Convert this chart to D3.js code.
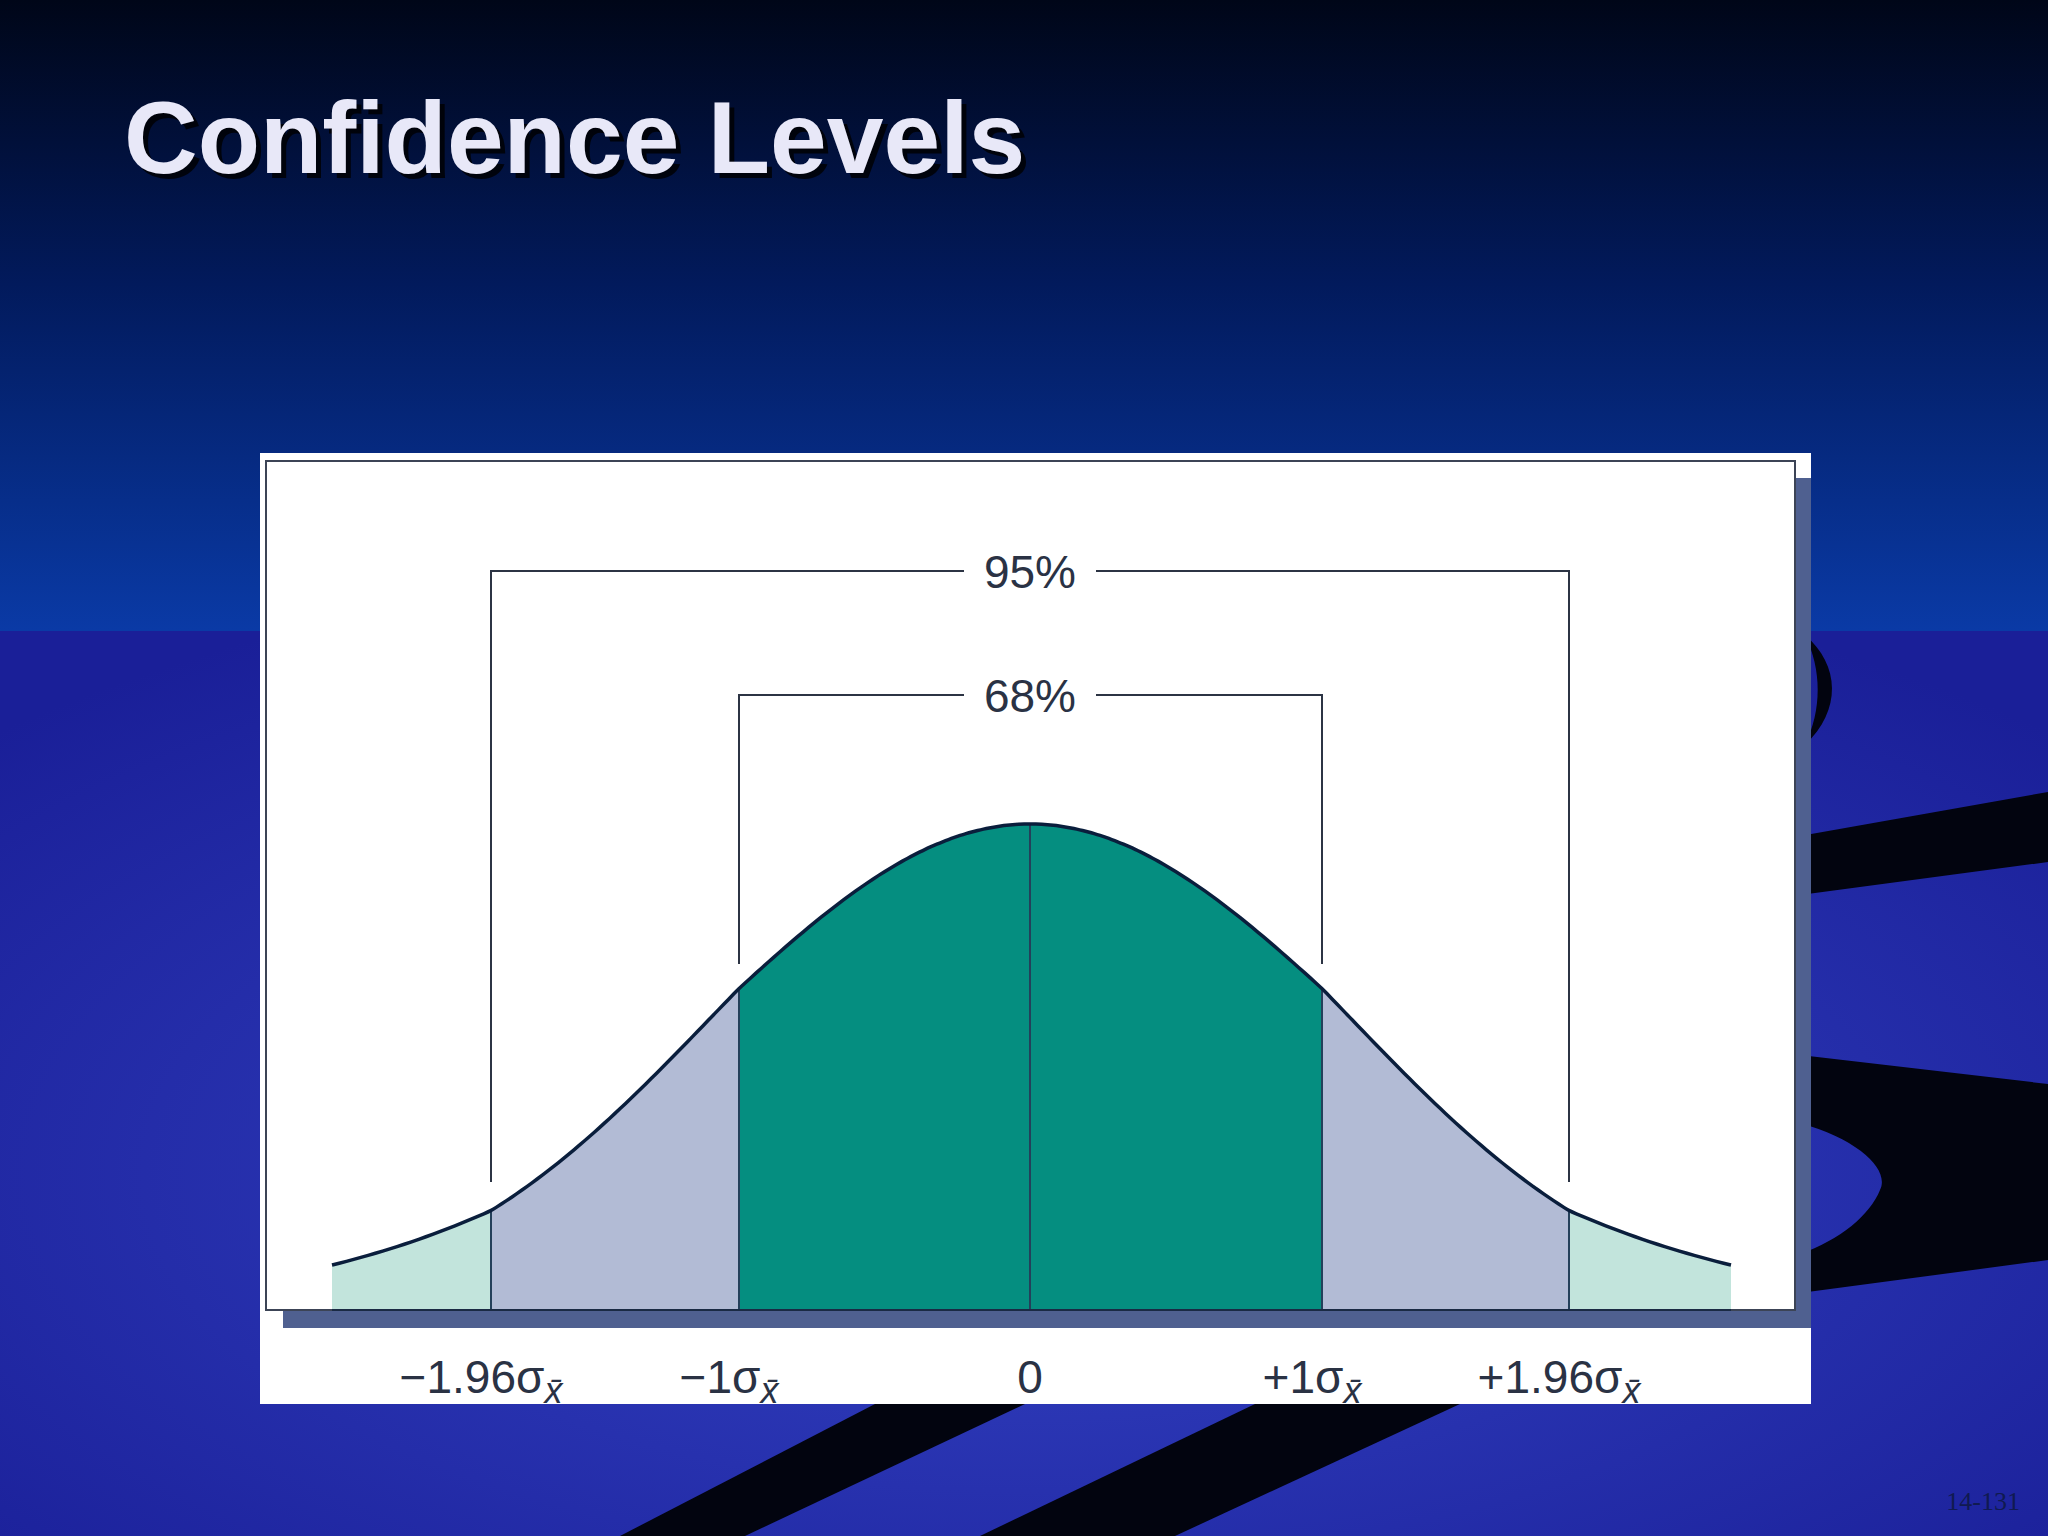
<!DOCTYPE html>
<html lang="en">
<head>
<meta charset="UTF-8">
<title>Confidence Levels</title>
<script src="https://d3js.org/d3.v7.min.js"></script>
<style>
  html, body { margin: 0; padding: 0; background: #000; }
  svg { display: block; }
</style>
</head>
<body>
<div id="chart"></div>
<script>
// ---- data ----
const cutZ = [-1.96, -1, 0, 1, 1.96];              // interval boundaries (in sigma)
const tickLabels = ["\u22121.96\u03c3", "\u22121\u03c3", "0", "+1\u03c3", "+1.96\u03c3"];
const tickSub = [true, true, false, true, true];   // carries the x-bar subscript
const bands = [
  { from: -2.4, to: -1.96, fill: "#c2e4dc" },
  { from: -1.96, to: -1, fill: "#b2bbd5" },
  { from: -1, to: 1, fill: "#058e80" },
  { from: 1, to: 1.96, fill: "#b2bbd5" },
  { from: 1.96, to: 2.4, fill: "#c2e4dc" }
];
const brackets = [
  { label: "95%", from: -1.96, to: 1.96 },
  { label: "68%", from: -1, to: 1 }
];
const shapeSigma = 1.1;   // drawn curve is a little flatter than the standard normal

const W = 2048, H = 1536;
const svg = d3.select("#chart").append("svg").attr("width", W).attr("height", H);
const defs = svg.append("defs");

// ---- background ----
const gTop = defs.append("linearGradient").attr("id", "gTop").attr("x1", 0).attr("y1", 0).attr("x2", 0).attr("y2", 1);
gTop.append("stop").attr("offset", 0).attr("stop-color", "#000618");
gTop.append("stop").attr("offset", 0.45).attr("stop-color", "#021a5c");
gTop.append("stop").attr("offset", 1).attr("stop-color", "#0a3aa6");
const gBot = defs.append("radialGradient").attr("id", "gBot").attr("cx", 0.5).attr("cy", 0.6).attr("r", 0.7);
gBot.append("stop").attr("offset", 0).attr("stop-color", "#3443c4");
gBot.append("stop").attr("offset", 1).attr("stop-color", "#1a1f98");

svg.append("rect").attr("width", W).attr("height", 631).attr("fill", "url(#gTop)");
svg.append("rect").attr("y", 631).attr("width", W).attr("height", H - 631).attr("fill", "url(#gBot)");

const swoosh = svg.append("g").attr("fill", "#02040f");
swoosh.append("path").attr("d", "M1805,635 C1840,665 1842,710 1805,745 C1822,710 1822,670 1805,635 Z");
swoosh.append("path").attr("d", "M1800,836 L2048,792 L2048,862 L1800,895 Z");
swoosh.append("path").attr("d", "M1800,1055 L2048,1084 L2048,1260 L1800,1293 Z M1800,1123 C1860,1140 1890,1170 1880,1190 C1870,1215 1840,1240 1800,1254 Z")
  .attr("fill-rule", "evenodd");
swoosh.append("path").attr("d", "M875,1404 L1025,1404 L745,1536 L620,1536 Z");
swoosh.append("path").attr("d", "M1255,1404 L1460,1404 L1175,1536 L980,1536 Z");

// ---- title ----
svg.append("text").attr("x", 129).attr("y", 178)
  .attr("font-family", "Liberation Sans, Arial, sans-serif").attr("font-weight", "bold")
  .attr("font-size", 102).attr("fill", "#000").attr("opacity", 0.8)
  .text("Confidence Levels");
svg.append("text").attr("x", 124).attr("y", 173)
  .attr("font-family", "Liberation Sans, Arial, sans-serif").attr("font-weight", "bold")
  .attr("font-size", 102).attr("fill", "#e8e8f8")
  .text("Confidence Levels");

// ---- figure box ----
svg.append("rect").attr("x", 260).attr("y", 453).attr("width", 1551).attr("height", 951).attr("fill", "#fff");
svg.append("rect").attr("x", 283).attr("y", 478).attr("width", 1528).attr("height", 850).attr("fill", "#4f6090");
svg.append("rect").attr("x", 266).attr("y", 461).attr("width", 1529).attr("height", 849)
  .attr("fill", "#fff").attr("stroke", "#3c4456").attr("stroke-width", 2);

// ---- scales ----
const x = d3.scaleLinear()
  .domain([-2.4, -1.96, -1, 0, 1, 1.96, 2.4])
  .range([332, 491, 739, 1030, 1322, 1569, 1731]);
const density = z => Math.exp(-z * z / (2 * shapeSigma * shapeSigma));
const y = d3.scaleLinear().domain([0, 1]).range([1310, 824]);

const plot = svg.append("g");
const area = d3.area().x(d => x(d)).y0(y(0)).y1(d => y(density(d)));
bands.forEach(b => {
  plot.append("path").datum(d3.range(b.from, b.to, 0.01).concat([b.to]))
    .attr("d", area).attr("fill", b.fill);
});

// cut lines
plot.selectAll(".cut").data(cutZ).join("line")
  .attr("x1", d => x(d)).attr("x2", d => x(d))
  .attr("y1", d => y(density(d))).attr("y2", y(0))
  .attr("stroke", "#24405a").attr("stroke-width", 2);

// curve
const line = d3.line().x(d => x(d)).y(d => y(density(d))).curve(d3.curveBasis);
plot.append("path").datum(d3.range(-2.4, 2.4001, 0.02))
  .attr("d", line).attr("fill", "none").attr("stroke", "#0a1e3c").attr("stroke-width", 3.5);
plot.append("line").attr("x1", 332).attr("x2", 1731).attr("y1", y(0)).attr("y2", y(0))
  .attr("stroke", "#1a2a44").attr("stroke-width", 2);

// brackets
const bY = [571, 695], bBottom = [1182, 964];
brackets.forEach((b, i) => {
  const g = svg.append("g").attr("stroke", "#2c3444").attr("stroke-width", 2).attr("fill", "none");
  g.append("path").attr("d", `M${x(b.from)},${bBottom[i]} V${bY[i]} H${x(0) - 66}`);
  g.append("path").attr("d", `M${x(b.to)},${bBottom[i]} V${bY[i]} H${x(0) + 66}`);
  svg.append("text").attr("x", x(0)).attr("y", bY[i] + 17).attr("text-anchor", "middle")
    .attr("font-family", "Liberation Sans, Arial, sans-serif").attr("font-size", 46)
    .attr("fill", "#2a3244").text(b.label);
});

// tick labels
cutZ.forEach((z, i) => {
  const t = svg.append("text").attr("x", x(z) + (tickSub[i] ? -10 : 0)).attr("y", 1393)
    .attr("text-anchor", "middle")
    .attr("font-family", "Liberation Sans, Arial, sans-serif").attr("font-size", 46)
    .attr("fill", "#2a3244");
  t.append("tspan").text(tickLabels[i]);
  if (tickSub[i]) {
    t.append("tspan").attr("dy", 10).attr("font-size", 36).attr("font-style", "italic")
      .text("x\u0304");
  }
});

// slide number
svg.append("text").attr("x", 2020).attr("y", 1510).attr("text-anchor", "end")
  .attr("font-family", "Liberation Serif, serif").attr("font-size", 26)
  .attr("fill", "#101a50").text("14-131");
</script>
</body>
</html>
